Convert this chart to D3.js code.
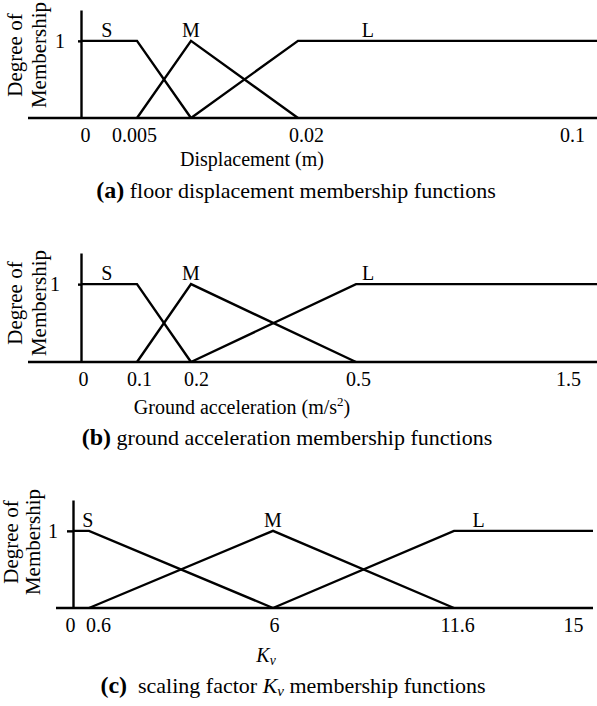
<!DOCTYPE html>
<html>
<head>
<meta charset="utf-8">
<script src="https://cdn.jsdelivr.net/npm/d3@7"></script>
<style>
  body { margin: 0; background: #fff; }
  svg { display: block; font-family: "Liberation Serif", "Times New Roman", serif; }
  text { fill: #000; white-space: pre; }
</style>
</head>
<body>
<svg id="chart"></svg>
<script>
// (a) floor displacement
const dispTicks = [0, 0.005, 0.02, 0.1];
const dispS = [[0, 1], [0.005, 1], [0.01, 0]];
const dispM = [[0.005, 0], [0.01, 1], [0.02, 0]];
const dispL = [[0.01, 0], [0.02, 1], [0.11, 1]];
const dispLabelX = [0.0023, 0.01, 0.0404];

// (b) ground acceleration
const accTicks = [0, 0.1, 0.2, 0.5, 1.5];
const accS = [[0, 1], [0.1, 1], [0.2, 0]];
const accM = [[0.1, 0], [0.2, 1], [0.5, 0]];
const accL = [[0.2, 0], [0.5, 1], [1.65, 1]];
const accLabelX = [0.046, 0.2, 0.557];

// (c) scaling factor Kv
const kvTicks = [0, 0.6, 6, 11.6, 15];
const kvS = [[0, 1], [0.6, 1], [6, 0]];
const kvM = [[0.6, 0], [6, 1], [11.6, 0]];
const kvL = [[6, 0], [11.6, 1], [15.6, 1]];
const kvLabelX = [0.56, 6, 12.3];

const setNames = ["S", "M", "L"];

const width = 597;
const height = 706;
const fontSize = 20;
const capSize = 22;

const svg = d3.select("#chart").attr("width", width).attr("height", height);

const panels = [
  {
    ticks: dispTicks, sets: [dispS, dispM, dispL], labelX: dispLabelX,
    xDomain: [0, 0.005, 0.01, 0.02, 0.1, 0.11],
    xRange: [81, 137, 191, 298, 572, 597],
    baseLeft: 28, bottom: 118, top: 10, tickShift: [4, -3, 8, 0],
    yTickSize: 3, yLabelDx: -16, ylab: { x1: 22, x2: 46, cy: 55 },
    xTitle: [{ t: "Displacement (m)" }], xTitleX: 252, xTitleY: 166,
    caption: [{ t: "(a)", bold: true }, { t: " floor displacement membership functions" }],
    capX: 296, capY: 198
  },
  {
    ticks: accTicks, sets: [accS, accM, accL], labelX: accLabelX,
    xDomain: [0, 0.1, 0.2, 0.5, 1.5, 1.65],
    xRange: [81, 137, 191, 356, 568, 597],
    baseLeft: 28, bottom: 362, top: 253, tickShift: [2, 2, 5, 2, 0],
    yTickSize: 3, yLabelDx: -21, ylab: { x1: 22, x2: 46, cy: 303 },
    xTitle: [{ t: "Ground acceleration (m/s" }, { t: "2", sup: true }, { t: ")", unsup: true }],
    xTitleX: 242, xTitleY: 414,
    caption: [{ t: "(b)", bold: true }, { t: " ground acceleration membership functions" }],
    capX: 287, capY: 445
  },
  {
    ticks: kvTicks, sets: [kvS, kvM, kvL], labelX: kvLabelX,
    xDomain: [0, 0.6, 6, 11.6, 15, 15.6],
    xRange: [73, 89, 273, 454, 573, 593],
    baseLeft: 56, bottom: 608, top: 500, tickShift: [-3, 9, 1, 3, 0],
    yTickSize: 6, yLabelDx: -15, ylab: { x1: 18, x2: 40, cy: 542 },
    xTitle: [{ t: "K", it: true }, { t: "v", it: true, sub: true }],
    xTitleX: 266, xTitleY: 662,
    caption: [{ t: "(c)", bold: true }, { t: "  scaling factor " }, { t: "K", it: true },
              { t: "v", it: true, sub: true }, { t: " membership functions", unsub: true }],
    capX: 293, capY: 693
  }
];

function richText(sel, parts, size) {
  parts.forEach(p => {
    const ts = sel.append("tspan").text(p.t);
    if (p.bold) ts.attr("font-weight", "bold").attr("font-size", size + 2);
    if (p.it) ts.attr("font-style", "italic");
    if (p.sup) ts.attr("font-size", size * 0.65).attr("dy", -8);
    if (p.unsup) ts.attr("dy", 8);
    if (p.sub) ts.attr("font-size", size * 0.68).attr("dy", 3);
    if (p.unsub) ts.attr("dy", -3);
  });
}

panels.forEach(p => {
  const g = svg.append("g");
  const x = d3.scaleLinear().domain(p.xDomain).range(p.xRange);
  const yTop = 1.4;
  const y = d3.scaleLinear().domain([0, yTop]).range([p.bottom, p.top]);

  // baseline
  g.append("line")
    .attr("x1", p.baseLeft).attr("x2", x(p.xDomain[p.xDomain.length - 1]))
    .attr("y1", y(0)).attr("y2", y(0))
    .attr("stroke", "#000").attr("stroke-width", 2.4);

  // x tick labels
  g.append("g")
    .attr("transform", `translate(0,${y(0)})`)
    .call(d3.axisBottom(x).tickValues(p.ticks).tickSize(0).tickFormat(d3.format("")))
    .call(a => a.select(".domain").remove())
    .call(a => a.selectAll(".tick text")
      .attr("y", 24).attr("dy", 0)
      .attr("dx", (d, i) => p.tickShift[i])
      .attr("fill", "#000")
      .attr("font-size", fontSize)
      .attr("font-family", "Liberation Serif, Times New Roman, serif"));

  // y axis
  g.append("g")
    .attr("transform", `translate(${x(0)},0)`)
    .call(d3.axisLeft(y).tickValues([1]).tickFormat(d3.format("d"))
      .tickSize(p.yTickSize).tickSizeOuter(0).tickPadding(0))
    .call(a => a.select(".domain").attr("stroke-width", 2.4))
    .call(a => a.selectAll(".tick line").attr("stroke-width", 2.4))
    .call(a => a.selectAll(".tick text")
      .attr("x", p.yLabelDx)
      .attr("fill", "#000")
      .attr("font-size", fontSize)
      .attr("font-family", "Liberation Serif, Times New Roman, serif"));

  // membership functions
  const line = d3.line().x(d => x(d[0])).y(d => y(d[1]));
  g.selectAll("path.mf")
    .data(p.sets)
    .join("path")
    .attr("class", "mf")
    .attr("d", line)
    .attr("fill", "none")
    .attr("stroke", "#000")
    .attr("stroke-width", 2.4)
    .attr("stroke-linejoin", "miter");

  // S / M / L labels
  g.selectAll("text.set")
    .data(setNames)
    .join("text")
    .attr("class", "set")
    .attr("x", (d, i) => x(p.labelX[i]))
    .attr("y", y(1) - 4)
    .attr("text-anchor", "middle")
    .attr("font-size", fontSize)
    .text(d => d);

  // y title (rotated, two lines)
  const yl = g.append("g");
  yl.append("text")
    .attr("transform", `translate(${p.ylab.x1},${p.ylab.cy}) rotate(-90)`)
    .attr("text-anchor", "middle").attr("font-size", 21)
    .text("Degree of");
  yl.append("text")
    .attr("transform", `translate(${p.ylab.x2},${p.ylab.cy}) rotate(-90)`)
    .attr("text-anchor", "middle").attr("font-size", 21)
    .text("Membership");

  // x title
  g.append("text")
    .attr("x", p.xTitleX).attr("y", p.xTitleY)
    .attr("text-anchor", "middle").attr("font-size", fontSize)
    .call(t => richText(t, p.xTitle, fontSize));

  // caption
  g.append("text")
    .attr("x", p.capX).attr("y", p.capY)
    .attr("text-anchor", "middle").attr("font-size", capSize)
    .call(t => richText(t, p.caption, capSize));
});
</script>
</body>
</html>
